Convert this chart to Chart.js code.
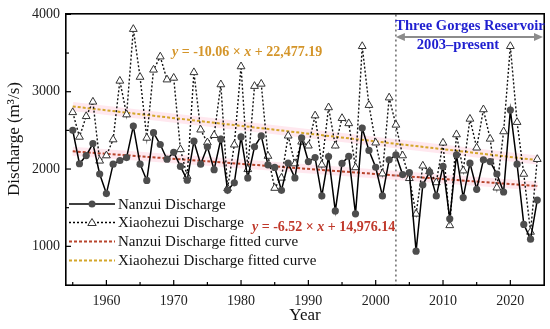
<!DOCTYPE html>
<html><head><meta charset="utf-8">
<script src="https://cdn.jsdelivr.net/npm/chart.js@4/dist/chart.umd.min.js"></script>
<style>html,body{margin:0;padding:0;background:#fff}#wrap{width:550px;height:329px}</style>
</head><body><div id="wrap"><canvas id="c"></canvas></div>
<script>
const years = [];
for (let y = 1955; y <= 2024; y++) years.push(y);
const nanzui = [2500,2068,2174,2330,1936,1682,2063,2110,2148,2555,
2063,1852,2470,2317,2127,2216,2034,1856,2360,2063,
2288,1992,2386,1725,1822,2415,1885,2288,2428,2055,
2021,1725,2076,1885,2402,2097,2148,1652,2161,1458,
2072,2165,1420,2530,2240,2023,1652,2119,2182,1928,
1953,938,1796,1962,1652,2034,1356,2182,1631,2076,
1738,2119,2097,1936,1703,2762,2063,1284,1093,1598];
const xiaohezui = [2733,2415,2682,2869,2106,2174,2381,3140,2704,3809,
3190,2402,3283,3453,3156,3178,2254,1907,3250,2508,
2343,2437,3093,1750,2314,3326,1996,3072,3101,2168,
1754,1885,2430,2070,2352,2301,2691,2055,2796,2301,
2657,2590,2020,3588,2826,2340,1940,2923,2571,2174,
1880,1420,2042,1970,1826,2339,1271,2446,1979,2648,
2275,2770,2390,1758,2485,3588,2606,1936,1186,2127];
const fitYears = [1955, 2024];
const nanzuiFit = [2229.5, 1779.6];
const xiaohezuiFit = [2809.9, 2115.7];
const xTicks = [1960,1970,1980,1990,2000,2010,2020];
const xMinorTicks = [1955,1965,1975,1985,1995,2005,2015,2025];
const yTicks = [1000,2000,3000,4000];
const yMinorTicks = [500,1500,2500,3500];
const damYear = 2003;

const F = '"Liberation Serif", "Times New Roman", serif';
const pts = (xs, ys) => xs.map((x, i) => ({x: x, y: ys[i]}));
const RED = '#b8452c', GOLD = '#d4a62a';

const overlay = {
  id: 'overlay',
  beforeDatasetsDraw(chart) {
    const ctx = chart.ctx, xs = chart.scales.x, a = chart.chartArea;
    ctx.save();
    const xd = xs.getPixelForValue(damYear);
    ctx.strokeStyle = '#6a6a6a'; ctx.lineWidth = 1.5; ctx.setLineDash([2, 3]);
    ctx.beginPath(); ctx.moveTo(xd, a.top); ctx.lineTo(xd, a.bottom); ctx.stroke();
    ctx.setLineDash([]);
    ctx.restore();
  },
  afterDraw(chart) {
    const ctx = chart.ctx, xs = chart.scales.x, ys = chart.scales.y, a = chart.chartArea;
    ctx.save();
    ctx.setLineDash([]);
    ctx.globalAlpha = 1;
    // frame (filled rects)
    ctx.fillStyle = '#000';
    const L = Math.round(a.left), R = Math.round(a.right), T = Math.round(a.top), B = Math.round(a.bottom);
    ctx.fillRect(L - 1, T - 1, R - L + 2, 1.6);
    ctx.fillRect(L - 1, B - 0.6, R - L + 2, 1.6);
    ctx.fillRect(L - 1, T - 1, 1.6, B - T + 2);
    ctx.fillRect(R - 0.6, T - 1, 1.6, B - T + 2);
    // inward ticks
    xTicks.forEach(v => { const p = xs.getPixelForValue(v); ctx.fillRect(p - 0.6, B - 5, 1.2, 5); });
    xMinorTicks.forEach(v => { const p = xs.getPixelForValue(v); if (p > L + 1 && p < R - 1) ctx.fillRect(p - 0.6, B - 3, 1.2, 3); });
    yTicks.forEach(v => { const p = ys.getPixelForValue(v); ctx.fillRect(L, p - 0.6, 5, 1.2); });
    yMinorTicks.forEach(v => { const p = ys.getPixelForValue(v); if (p < B - 1) ctx.fillRect(L, p - 0.6, 3, 1.2); });

    // axis titles
    ctx.fillStyle = '#111';
    ctx.font = '17px ' + F; ctx.textAlign = 'center'; ctx.textBaseline = 'middle';
    ctx.fillText('Year', (a.left + a.right) / 2, 316);
    ctx.save(); ctx.translate(15, 139); ctx.rotate(-Math.PI / 2);
    ctx.fillText('Discharge (m\u00B3/s)', 0, 0); ctx.restore();

    // dam arrow
    const xd = xs.getPixelForValue(damYear), ya = 37;
    ctx.strokeStyle = '#8c8c8c'; ctx.fillStyle = '#8c8c8c'; ctx.lineWidth = 2;
    ctx.beginPath(); ctx.moveTo(xd + 6, ya); ctx.lineTo(R - 6, ya); ctx.stroke();
    ctx.beginPath(); ctx.moveTo(xd, ya); ctx.lineTo(xd + 9, ya - 4); ctx.lineTo(xd + 9, ya + 4); ctx.closePath(); ctx.fill();
    ctx.beginPath(); ctx.moveTo(R - 1, ya); ctx.lineTo(R - 10, ya - 4); ctx.lineTo(R - 10, ya + 4); ctx.closePath(); ctx.fill();
    ctx.fillStyle = '#1f1fd0'; ctx.font = 'bold 14.6px ' + F; ctx.textAlign = 'center';
    ctx.fillText('Three Gorges Reservoir', 470, 26);
    ctx.fillText('2003\u2013present', 458, 45);

    // equations
    function eq(x, y, color, parts) {
      ctx.textAlign = 'left'; ctx.textBaseline = 'middle'; ctx.fillStyle = color;
      let cx = x;
      parts.forEach(([t, it]) => { ctx.font = (it ? 'italic ' : '') + 'bold 14px ' + F; ctx.fillText(t, cx, y); cx += ctx.measureText(t).width; });
    }
    eq(172, 52, '#d4952a', [['y', 1], [' = -10.06 \u00D7 ', 0], ['x', 1], [' + 22,477.19', 0]]);
    eq(252, 227, '#c0392b', [['y', 1], [' = -6.52 \u00D7 ', 0], ['x', 1], [' + 14,976.14', 0]]);

    // legend
    const rows = [204, 222.5, 241.5, 260.5];
    const lx0 = 69, lx1 = 115, mx = 92;
    ctx.lineWidth = 1.5;
    ctx.strokeStyle = '#000'; ctx.setLineDash([]);
    ctx.beginPath(); ctx.moveTo(lx0, rows[0]); ctx.lineTo(lx1, rows[0]); ctx.stroke();
    ctx.fillStyle = '#4d4d4d'; ctx.beginPath(); ctx.arc(mx, rows[0], 3.5, 0, Math.PI * 2); ctx.fill();
    ctx.setLineDash([2, 2]);
    ctx.beginPath(); ctx.moveTo(lx0, rows[1]); ctx.lineTo(lx1, rows[1]); ctx.stroke();
    ctx.setLineDash([]);
    ctx.fillStyle = '#fff'; ctx.strokeStyle = '#333'; ctx.lineWidth = 1;
    ctx.beginPath(); ctx.moveTo(mx, rows[1] - 4); ctx.lineTo(mx + 4.2, rows[1] + 3); ctx.lineTo(mx - 4.2, rows[1] + 3); ctx.closePath(); ctx.fill(); ctx.stroke();
    ctx.lineWidth = 2; ctx.setLineDash([3, 2]);
    ctx.strokeStyle = RED; ctx.beginPath(); ctx.moveTo(lx0, rows[2]); ctx.lineTo(lx1, rows[2]); ctx.stroke();
    ctx.strokeStyle = GOLD; ctx.beginPath(); ctx.moveTo(lx0, rows[3]); ctx.lineTo(lx1, rows[3]); ctx.stroke();
    ctx.setLineDash([]);
    ctx.fillStyle = '#111'; ctx.font = '15px ' + F; ctx.textAlign = 'left'; ctx.textBaseline = 'middle';
    ['Nanzui Discharge', 'Xiaohezui Discharge', 'Nanzui Discharge fitted curve', 'Xiaohezui Discharge fitted curve']
      .forEach((t, i) => ctx.fillText(t, 118, rows[i] + 1));
    ctx.restore();
  }
};

new Chart(document.getElementById('c'), {
  type: 'line',
  data: {
    datasets: [
      { label: 'band1', data: pts(fitYears, xiaohezuiFit), borderColor: 'rgba(255,190,210,0.35)', borderWidth: 9, pointRadius: 0, order: 5 },
      { label: 'band2', data: pts(fitYears, nanzuiFit), borderColor: 'rgba(255,190,210,0.35)', borderWidth: 9, pointRadius: 0, order: 5 },
      { label: 'Xiaohezui Discharge fitted curve', data: pts(fitYears, xiaohezuiFit), borderColor: GOLD, borderWidth: 2, borderDash: [3, 2], pointRadius: 0, order: 4 },
      { label: 'Nanzui Discharge fitted curve', data: pts(fitYears, nanzuiFit), borderColor: RED, borderWidth: 2, borderDash: [3, 2], pointRadius: 0, order: 4 },
      { label: 'Xiaohezui Discharge', data: pts(years, xiaohezui), borderColor: '#111', borderWidth: 1.4, borderDash: [2, 2],
        pointStyle: 'triangle', pointRadius: 4.5, pointBackgroundColor: '#fff', pointBorderColor: '#333', pointBorderWidth: 1, order: 2 },
      { label: 'Nanzui Discharge', data: pts(years, nanzui), borderColor: '#000', borderWidth: 1.5,
        pointStyle: 'circle', pointRadius: 3.6, pointBackgroundColor: '#4d4d4d', pointBorderColor: '#4d4d4d', pointBorderWidth: 0, order: 1 }
    ]
  },
  options: {
    responsive: true, maintainAspectRatio: false, animation: false,
    layout: { padding: { left: 0, right: 6, top: 11, bottom: 0 } },
    plugins: { legend: { display: false }, tooltip: { enabled: false } },
    elements: { line: { tension: 0 } },
    scales: {
      x: {
        type: 'linear', min: 1954, max: 2025,
        grid: { display: false, drawTicks: false }, border: { display: false },
        afterBuildTicks: s => { s.ticks = xTicks.map(v => ({ value: v })); },
        afterFit: s => { s.height = 44; },
        ticks: { color: '#222', font: { family: F, size: 14 }, padding: 8, maxRotation: 0, callback: v => String(v) }
      },
      y: {
        min: 500, max: 4000,
        grid: { display: false, drawTicks: false }, border: { display: false },
        afterBuildTicks: s => { s.ticks = yTicks.map(v => ({ value: v })); },
        afterFit: s => { s.width = 66; },
        ticks: { color: '#222', font: { family: F, size: 14 }, padding: 6, callback: v => String(v) }
      }
    }
  },
  plugins: [overlay]
});
</script></body></html>
